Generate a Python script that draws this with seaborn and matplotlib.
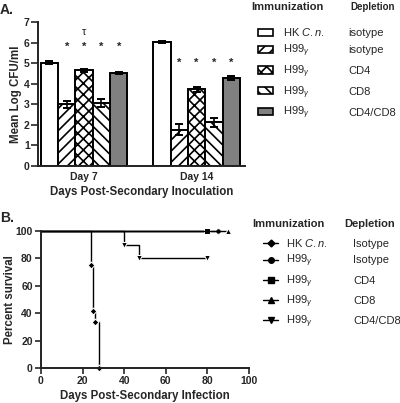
import matplotlib
matplotlib.use("Agg")
import matplotlib.pyplot as plt
import seaborn as sns
import pandas as pd
import numpy as np
from matplotlib.patches import Patch
from matplotlib.lines import Line2D

# ---- Panel A data (mean log CFU/ml +/- SEM) ----
days = ["Day 7", "Day 14"]
groups = ["HK isotype", "H99 isotype", "H99 CD4", "H99 CD8", "H99 CD4/CD8"]
immunization = ["HK $\\it{C.n.}$", "H99$_{\\gamma}$", "H99$_{\\gamma}$",
                "H99$_{\\gamma}$", "H99$_{\\gamma}$"]
depletion_a = ["isotype", "isotype", "CD4", "CD8", "CD4/CD8"]
cfu_day7 = [5.03, 2.99, 4.65, 3.07, 4.52]
cfu_day14 = [6.03, 1.76, 3.72, 2.13, 4.29]
sem_day7 = [0.06, 0.17, 0.07, 0.20, 0.06]
sem_day14 = [0.06, 0.27, 0.10, 0.22, 0.10]
star_y = [5.8, 5.0]
tau_y = 6.5

# ---- Panel B data (Kaplan-Meier survival) ----
depletion_b = ["Isotype", "Isotype", "CD4", "CD8", "CD4/CD8"]
hk_days = [0, 24, 25, 26, 28]
hk_surv = [100, 75, 41.7, 33.3, 0]
iso_days = [0, 85]
iso_surv = [100, 100]
cd4_days = [0, 80]
cd4_surv = [100, 100]
cd8_days = [0, 90]
cd8_surv = [100, 100]
cd48_days = [0, 40, 47, 80]
cd48_surv = [100, 90, 80, 80]

bar_colors = ["white", "white", "white", "white", "#808080"]
bar_hatches = ["", "///", "xxx", "\\\\\\", ""]
markers = ["D", "o", "s", "^", "v"]

sns.set_style("ticks")
plt.rcParams["font.family"] = ["Liberation Sans", "DejaVu Sans"]
plt.rcParams["mathtext.fontset"] = "custom"
plt.rcParams["mathtext.rm"] = "Liberation Sans"
plt.rcParams["mathtext.it"] = "Liberation Sans:italic"
plt.rcParams["hatch.linewidth"] = 1.2

W, H = 400, 403
fig = plt.figure(figsize=(W / 100, H / 100), dpi=100)
axA = fig.add_axes([38 / W, 1 - 166 / H, 207 / W, 144 / H])
axB = fig.add_axes([41 / W, 1 - 368 / H, 208 / W, 137 / H])

# ---------------- Panel A ----------------
df = pd.DataFrame({
    "day": np.repeat(days, len(groups)),
    "group": groups * 2,
    "cfu": cfu_day7 + cfu_day14,
    "err": sem_day7 + sem_day14,
})
sns.barplot(data=df, x="day", y="cfu", hue="group", order=days, hue_order=groups,
            palette=dict(zip(groups, bar_colors)), width=0.77, gap=0,
            errorbar=None, edgecolor="black", linewidth=1.4, saturation=1,
            legend=False, ax=axA)

centers = {}
for container, hatch, name in zip(axA.containers, bar_hatches, groups):
    sub = df[df.group == name]
    xs = [b.get_x() + b.get_width() / 2 for b in container]
    centers[name] = xs
    for b in container:
        b.set_hatch(hatch)
    axA.errorbar(xs, sub["cfu"], yerr=sub["err"], fmt="none", ecolor="black",
                 elinewidth=1.2, capsize=3, capthick=1.4, zorder=3)

for di in range(len(days)):
    for name in groups[1:]:
        axA.text(centers[name][di], star_y[di], "*", ha="center", va="center",
                 fontsize=8, fontweight="bold")
axA.text(centers["H99 CD4"][0], tau_y, "τ", ha="center", va="center", fontsize=8)

axA.set_xlim(-0.41, 1.43)
axA.set_ylim(0, 7)
axA.set_yticks(range(8))
axA.set_xlabel("Days Post-Secondary Inoculation", fontsize=8.3, fontweight="bold")
axA.set_ylabel("Mean Log CFU/ml", fontsize=8.3, fontweight="bold")
axA.xaxis.set_label_coords(0.5, -0.14)
axA.yaxis.set_label_coords(-0.075, 0.5)
axA.tick_params(axis="x", length=0, pad=4, labelsize=7.5)
axA.tick_params(axis="y", length=5, width=1.2, pad=1, labelsize=7.5)

# ---------------- Panel B ----------------
series = [(hk_days, hk_surv), (iso_days, iso_surv), (cd4_days, cd4_surv),
          (cd8_days, cd8_surv), (cd48_days, cd48_surv)]
for (d, s), m in zip(series, markers):
    sdf = pd.DataFrame({"day": d, "surv": s})
    sns.lineplot(data=sdf, x="day", y="surv", estimator=None, ax=axB,
                 color="black", linewidth=1.0, drawstyle="steps-post",
                 marker=m, markersize=4 if m != "D" else 3.5,
                 markevery=list(range(1, len(d))), clip_on=False)

axB.set_xlim(0, 100)
axB.set_ylim(0, 100)
axB.set_xticks(range(0, 101, 20))
axB.set_yticks(range(0, 101, 20))
axB.set_xlabel("Days Post-Secondary Infection", fontsize=8.3, fontweight="bold")
axB.set_ylabel("Percent survival", fontsize=8.3, fontweight="bold")
axB.xaxis.set_label_coords(0.5, -0.16)
axB.yaxis.set_label_coords(-0.12, 0.5)
axB.tick_params(axis="both", length=4.5, width=1.2, pad=1.5, labelsize=7.5)

for ax in (axA, axB):
    sns.despine(ax=ax)
    for sp in ("left", "bottom"):
        ax.spines[sp].set_linewidth(1.4)
        ax.spines[sp].set_color("#222222")
    for lab in ax.get_xticklabels() + ax.get_yticklabels():
        lab.set_fontweight("bold")

# ---------------- Legends ----------------
handles_a = [Patch(facecolor=c, edgecolor="black", hatch=h, linewidth=1.2)
             for c, h in zip(bar_colors, bar_hatches)]
legA = fig.legend(handles_a, immunization, loc="upper left",
                  bbox_to_anchor=(258 / W, 1 - 26 / H), frameon=False, fontsize=8,
                  handlelength=1.35, handleheight=0.6, handletextpad=0.9,
                  labelspacing=0.4, borderpad=0, borderaxespad=0)

handles_b = [Line2D([], [], color="black", lw=1.0, marker=m,
                    markersize=4 if m != "D" else 3.5) for m in markers]
legB = fig.legend(handles_b, immunization, loc="upper left",
                  bbox_to_anchor=(263 / W, 1 - 237 / H), frameon=False, fontsize=8,
                  handlelength=1.35, handletextpad=0.7,
                  labelspacing=0.35, borderpad=0, borderaxespad=0)

fig.text(251 / W, 1 - 7 / H, "Immunization", fontsize=8, fontweight="bold", va="center")
fig.text(350 / W, 1 - 7 / H, "Depletion", fontsize=7, fontweight="bold", va="center")
fig.text(252 / W, 1 - 224 / H, "Immunization", fontsize=8, fontweight="bold", va="center")
fig.text(344 / W, 1 - 224 / H, "Depletion", fontsize=8, fontweight="bold", va="center")

fig.canvas.draw()
inv = fig.transFigure.inverted()
for leg, labels, x0 in ((legA, depletion_a, 348), (legB, depletion_b, 353)):
    for t, lab in zip(leg.get_texts(), labels):
        bx, by = t.get_transform().transform(t.get_position())
        fy = inv.transform((bx, by))[1]
        fig.text(x0 / W, fy, lab, fontsize=8, va="baseline")

fig.text(0.0, 1 - 10 / H, "A.", fontsize=10, fontweight="bold", va="center")
fig.text(0.0, 1 - 218 / H, "B.", fontsize=10, fontweight="bold", va="center")

fig.savefig("out.png", dpi=100)
